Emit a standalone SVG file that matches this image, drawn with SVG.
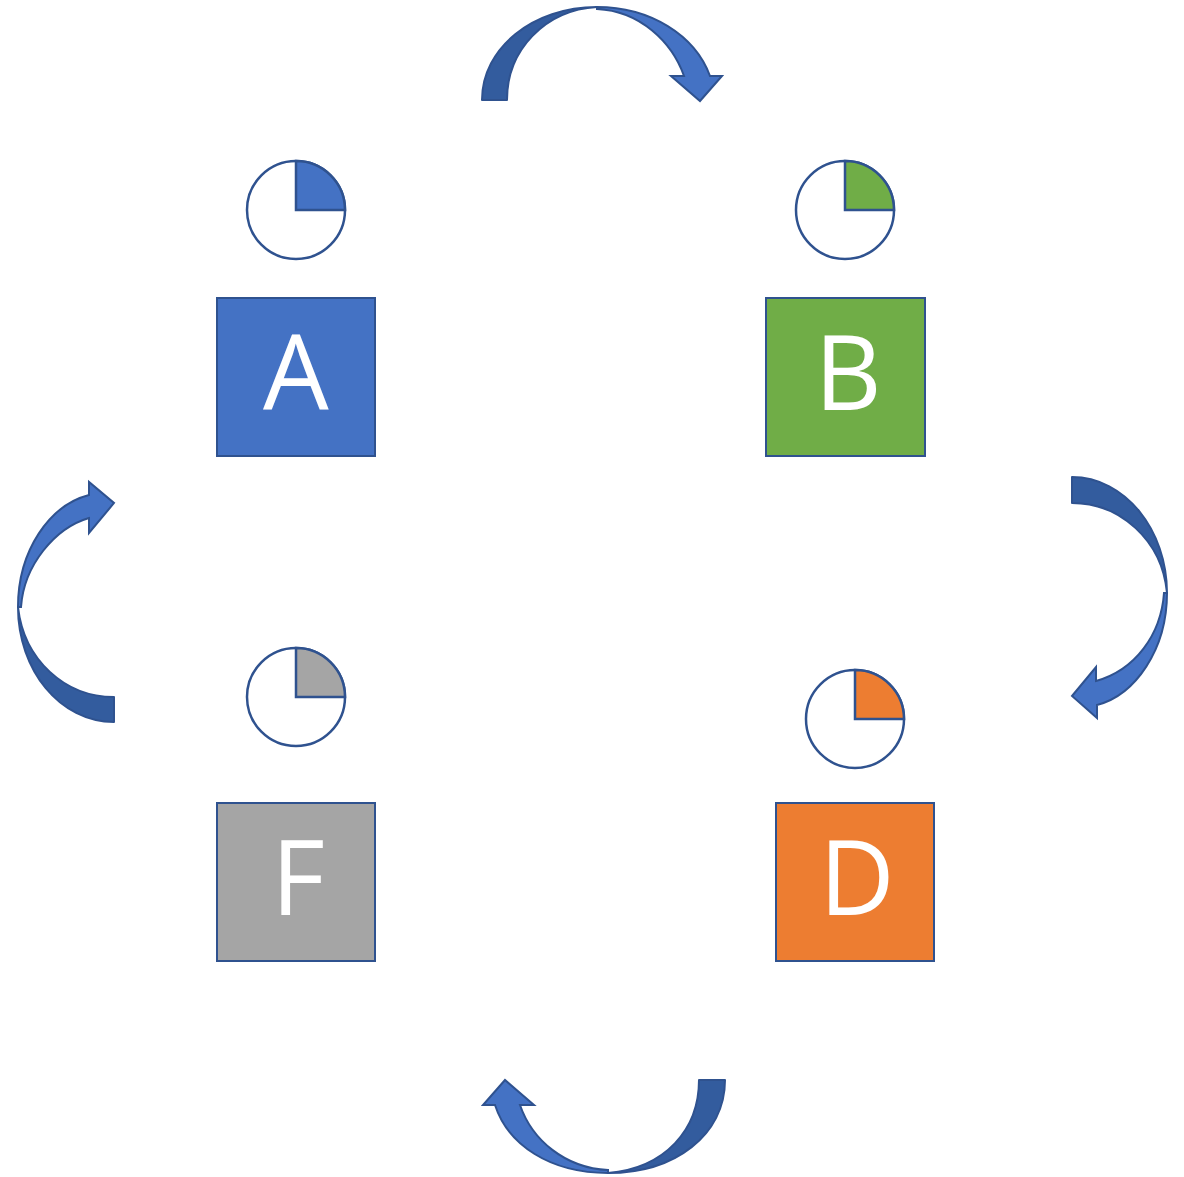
<svg xmlns="http://www.w3.org/2000/svg" width="1184" height="1177" viewBox="0 0 1184 1177">
  <style>
    .box { stroke: #2F528F; stroke-width: 2; }
    .lbl { font-family: "Open Sans", "Liberation Sans", sans-serif; font-size: 104px; fill: #FFFFFF; text-anchor: middle; }
    .dial { fill: #FFFFFF; stroke: #2F528F; stroke-width: 2.5; }
    .wedge { stroke: #2F528F; stroke-width: 2.5; stroke-linejoin: miter; }
    .back { fill: #335C9E; stroke: #2F528F; stroke-width: 2; stroke-linejoin: round; }
    .front { fill: #4472C4; stroke: #2F528F; stroke-width: 2; stroke-linejoin: miter; }
  </style>
  <rect width="1184" height="1177" fill="#FFFFFF"/>

  <!-- curved arrows between the stations -->
  <g id="connectors">
    <g id="arrow-top">
      <path class="back" d="M482,100 C482,48 533,7 597,7 C545,10 507,50 507,100 Z"/>
      <path class="front" d="M597,7 C650,7 695,35 710,76 L722,76 L700,101 L671,76 L684,76 C672,42 640,11 597,9 Z"/>
    </g>
    <g id="arrow-right">
      <path class="back" d="M1072,477 C1125,477 1167,530 1167,593 C1162,540 1120,503 1072,503 Z"/>
      <path class="front" d="M1167,593 C1167,650 1135,695 1097,705 L1097,718 L1072,696 L1096,667 L1096,681 C1135,670 1161,635 1164,593 Z"/>
    </g>
    <g id="arrow-bottom">
      <path class="back" d="M725,1080 C725,1135 675,1173 608,1173 C665,1168 699,1130 699,1080 Z"/>
      <path class="front" d="M608,1173 C550,1173 508,1145 495,1105 L483,1105 L505,1080 L534,1105 L520,1105 C532,1140 565,1168 608,1170 Z"/>
    </g>
    <g id="arrow-left">
      <path class="back" d="M114,722 C60,722 18,670 18,607 C24,660 65,697 114,697 Z"/>
      <path class="front" d="M18,607 C18,550 50,505 89,495 L89,482 L114,503 L89,533 L89,518 C55,528 24,565 21,607 Z"/>
    </g>
  </g>

  <g id="node-a">
    <circle class="dial" cx="296" cy="210" r="49"/>
    <path class="wedge" fill="#4472C4" d="M296,210 L296,161 A49,49 0 0 1 345,210 Z"/>
    <rect class="box" x="217" y="298" width="158" height="158" fill="#4472C4"/>
    <text class="lbl" x="296" y="410">A</text>
  </g>

  <g id="node-b">
    <circle class="dial" cx="845" cy="210" r="49"/>
    <path class="wedge" fill="#70AD47" d="M845,210 L845,161 A49,49 0 0 1 894,210 Z"/>
    <rect class="box" x="766" y="298" width="159" height="158" fill="#70AD47"/>
    <text class="lbl" x="848" y="410">B</text>
  </g>

  <g id="node-d">
    <circle class="dial" cx="855" cy="719" r="49"/>
    <path class="wedge" fill="#ED7D31" d="M855,719 L855,670 A49,49 0 0 1 904,719 Z"/>
    <rect class="box" x="776" y="803" width="158" height="158" fill="#ED7D31"/>
    <text class="lbl" x="857" y="915">D</text>
  </g>

  <g id="node-f">
    <circle class="dial" cx="296" cy="697" r="49"/>
    <path class="wedge" fill="#A5A5A5" d="M296,697 L296,648 A49,49 0 0 1 345,697 Z"/>
    <rect class="box" x="217" y="803" width="158" height="158" fill="#A5A5A5"/>
    <text class="lbl" x="298" y="915">F</text>
  </g>
</svg>
